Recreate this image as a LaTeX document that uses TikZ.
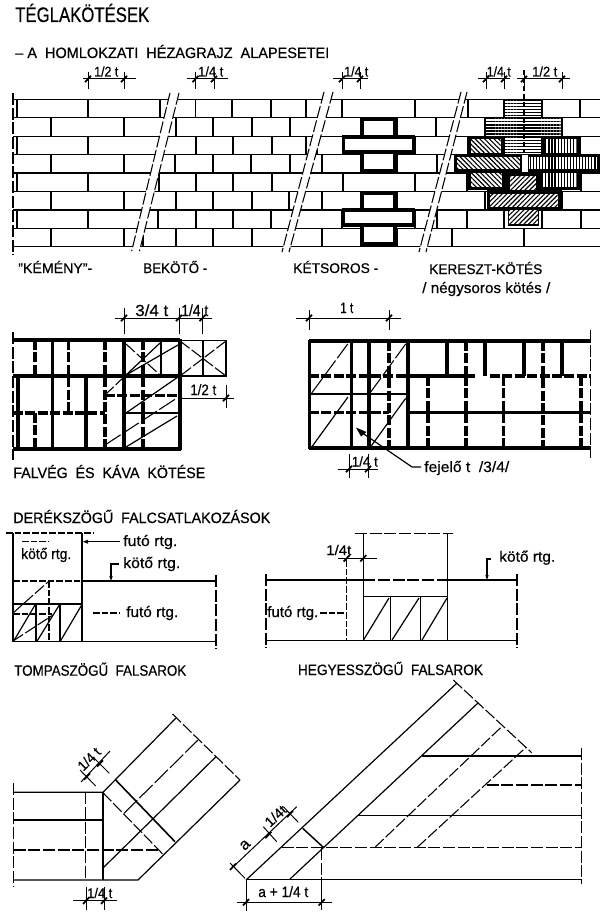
\documentclass[tikz,border=0pt]{standalone}
\usepackage{graphicx}
\usepackage{fontspec}
\setmainfont[FakeBold=0.5]{Liberation Sans}
\usetikzlibrary{patterns.meta}
\newdimen\pxu \pxu=.75pt
\newcommand\ws{\hskip .55em\relax}
\tikzset{
  thinl/.style={line width=.9pt,line cap=butt},
  bold/.style={line width=2.6pt},
  boldd/.style={line width=2.6pt,dash pattern=on 7.5pt off 1.8pt},
  dsh/.style={line width=.8pt,dash pattern=on 9pt off 2pt},
  sdsh/.style={line width=.8pt,dash pattern=on 5pt off 1.5pt},
  ldsh/.style={line width=.8pt,dash pattern=on 14pt off 2.2pt},
  thick cross/.style={line width=2.8pt,line join=miter},
  tickm/.style={line width=1.3pt},
  dimline/.style={line width=.75pt},
  hh/.style={draw=black,line width=.5pt,pattern={Lines[angle=0,distance=2.3pt,line width=1pt]}},
  hv/.style={draw=none,pattern={Lines[angle=90,distance=2.3pt,line width=.9pt]}},
  hb/.style={draw=none,pattern={Lines[angle=-45,distance=2.5pt,line width=.85pt]}},
  hf/.style={draw=none,pattern={Lines[angle=45,distance=2.5pt,line width=.85pt]}},
  lettering/.style={inner sep=0pt,anchor=base west},
}
% name, x, y, width px, size px, text
\newcommand\lab[6]{\node[lettering] (#1) at (#2,#3)
  {\resizebox{#4\pxu}{\height}{\fontsize{#5\pxu}{#5\pxu}\selectfont #6}};}
% name, x, y, angle, width px, size px, text
\newcommand\rlab[7]{\node[inner sep=0pt,rotate=#4] (#1) at (#2,#3)
  {\resizebox{#5\pxu}{\height}{\fontsize{#6\pxu}{#6\pxu}\selectfont #7}};}
\newcommand\tk[2]{\draw[tickm] (#1-3,#2+3.2) -- (#1+3,#2-3.2);}
\begin{document}
\begin{tikzpicture}[x=.75pt,y=-.75pt]
\useasboundingbox (0,0) rectangle (600,913);
\fill[white] (0,0) rectangle (600,913);

% ---------- headings
\lab{title}{15}{22}{134}{21}{TÉGLAKÖTÉSEK}
\lab{sub}{15}{58}{314}{15}{– A\ws HOMLOKZATI\ws HÉZAGRAJZ\ws ALAPESETEI}

% ---------- brick wall
\foreach \r/\xs in {
 0/{17,88,160,195.5,232,271,306,342,415,468,504,542,580},
 1/{51,124,176,213,252,290,361,397,436,485,562},
 2/{17,88,196,233,272,306,317,343,415,468,504,542,580},
 3/{51,124,175,213,251,290,322,361,397,437,599},
 4/{17,88,159,196,233,272,343,415,467,581},
 5/{51,124,176,213,252,289,322,361,397,485,562},
 6/{17,88,158,196,233,271,342,415,437,467,504,542,581},
 7/{51,124,143,176,213,252,322,361,397,452,524}}{
  \pgfmathsetmacro\ya{99.5+18.4*\r}
  \pgfmathsetmacro\yb{\ya+18.4}
  \foreach \x in \xs {\draw[thinl] (\x,\ya) -- (\x,\yb);}
}
\foreach \r in {0,...,8}{
  \pgfmathsetmacro\ya{99.5+18.4*\r}
  \draw[thinl] (13,\ya) -- (600,\ya);
}
\draw[dsh] (13,93) -- (13,255);

% break bands
\fill[white] (170,93) -- (179,93) -- (139.5,251) -- (131.7,251) -- cycle;
\draw[dsh] (170,93) -- (131.7,251);
\draw[dsh] (179,93) -- (139.5,251);
\fill[white] (324,92) -- (333,92) -- (289,252) -- (282,252) -- cycle;
\draw[dsh] (324,92) -- (282,252);
\draw[dsh] (333,92) -- (289,252);
\fill[white] (461,92) -- (467,92) -- (426,252) -- (419,252) -- cycle;
\draw[dsh] (461,92) -- (419,252);
\draw[dsh] (467,92) -- (426,252);

% double-row crosses
\foreach \ya/\yb/\yc/\yd in {119/137.3/151.7/170.7, 193/210/225/244}{
  \draw[thick cross,fill=white] (362,\ya) rectangle (395,\yb);
  \draw[thick cross,fill=white] (343.5,\yb) rectangle (413.5,\yc);
  \draw[thick cross,fill=white] (362,\yc) rectangle (395,\yd);
}

% cross bond
\path[hh,draw=none] (504,100) rectangle (541.7,117.3);
\path[hh,draw=none] (486,119) rectangle (560.7,136);
\path[hh,draw=none] (504,137) rectangle (541.7,153.3);
% black grounds
\fill[black] (467.5,136.5) rectangle (503.5,156);
\fill[black] (453.5,154) rectangle (522,172);
\fill[black] (467.5,170) rectangle (504,190);
\fill[black] (542,136.5) rectangle (580,156);
\fill[black] (527.5,154) rectangle (599,172);
\fill[black] (540,170) rectangle (580,190);
\fill[black] (504,172) rectangle (542,192);
\fill[black] (486.7,190) rectangle (562,208.5);
\foreach \a/\b/\c/\d in {470.7/139.3/500.7/153.3,456.7/157.3/520/169.3,470.7/173.3/501.7/187.3}{
  \fill[white] (\a,\b) rectangle (\c,\d); \path[hb] (\a,\b) rectangle (\c,\d);}
\foreach \a/\b/\c/\d in {545/139.3/576.7/153.3,529.3/157.3/596.7/169.3,542.7/173.3/576.7/186.7}{
  \fill[white] (\a,\b) rectangle (\c,\d); \path[hv] (\a,\b) rectangle (\c,\d);}
\foreach \a/\b/\c/\d in {510/176/536/190,490/194/557.7/206.7,508.3/210/538.3/223.3}{
  \fill[white] (\a,\b) rectangle (\c,\d); \path[hf] (\a,\b) rectangle (\c,\d);}
\draw[thinl] (508.3,208) rectangle (538.3,225);
\draw[line width=1pt,dash pattern=on 4pt off 2pt] (524,70) -- (524,153);

% wall dimensions
\foreach \xa/\xb/\ta/\tb/\y in {83/136/88/124/79, 187/228/195.5/214/79, 333/368/342/360/79, 478/510/486/504/79, 517/570/524/562/79}{
  \draw[dimline] (\xa,\y) -- (\xb,\y);
  \draw[dimline] (\ta,\y-7) -- (\ta,\y+10);
  \draw[dimline] (\tb,\y-7) -- (\tb,\y+10);
  \tk{\ta}{\y} \tk{\tb}{\y}
}
\lab{d1}{94}{76.5}{24}{14}{1/2 t}
\lab{d2}{198}{76.5}{25}{14}{1/4 t}
\lab{d3}{344}{76.5}{24}{14}{1/4 t}
\lab{d4}{486.5}{76.5}{24}{14}{1/4 t}
\lab{d5}{532}{76.5}{25}{14}{1/2 t}

% wall captions
\lab{c1}{18}{273}{74}{14}{"KÉMÉNY"-}
\lab{c2}{143}{273}{64}{14}{BEKÖTŐ -}
\lab{c3}{293}{273}{85}{14}{KÉTSOROS -}
\lab{c4}{429}{274}{113}{14}{KERESZT-KÖTÉS}
\lab{c5}{422}{293}{128}{15}{/ négysoros kötés /}

% ---------- wall end (left)
\draw[dsh] (13,332) -- (13,460);
\draw[bold] (13,340) -- (180,340);
\draw[bold] (13,376) -- (180,376);
\draw[bold] (13,449) -- (181,449);
\draw[bold] (180,339) -- (180,450);
\draw[boldd] (13,413) -- (105,413);
\draw[line width=1.6pt] (124,413) -- (180,413);
\draw[boldd] (105,395.5) -- (180,395.5);
\foreach \x in {52.5,124}{\draw[bold] (\x,340) -- (\x,449);}
\foreach \x in {18,86}{\draw[bold] (\x,376) -- (\x,449);}
\draw[boldd] (35,340) -- (35,376);
\draw[boldd] (35,413) -- (35,449);
\draw[boldd] (68.7,340) -- (68.7,413);
\draw[boldd] (105,340) -- (105,449);
\draw[boldd] (143,340) -- (143,449);
\draw[thinl] (161,340) -- (161,376);
\draw[thinl] (180,340.5) -- (226,340.5) -- (226,376) -- (180,376);
\draw[thinl] (203,340) -- (203,376);
\draw[dsh] (180,341) -- (226,376);
\draw[dsh] (226,341) -- (180,376);
\draw[thinl] (126,375) -- (160,343);
\draw[thinl] (126,375) -- (178,345);
\draw[dsh] (126,344) -- (160,375);
\draw[dsh] (105,395) -- (126,375);
\draw[thinl] (126,413) -- (178,377);
\draw[ldsh] (105,445) -- (177,398);
\draw[thinl] (126,447) -- (177,416);
\draw[dimline] (115,318) -- (212,318);
\foreach \x in {124,179,202.5}{\draw[dimline] (\x,308) -- (\x,334); \tk{\x}{318}}
\lab{e1}{135}{316}{33}{16}{3/4 t}
\lab{e2}{181}{316}{27}{16}{1/4 t}
\draw[dimline] (180,398) -- (234,398);
\draw[dimline] (226,385) -- (226,408);
\tk{226}{398}
\fill (180,397.5) circle (2.2);
\lab{e3}{190}{395}{26}{15}{1/2 t}
\lab{e4}{13}{478}{192}{15}{FALVÉG\ws ÉS\ws KÁVA\ws KÖTÉSE}

% ---------- wall end (right)
\draw[dsh] (590.7,330) -- (590.7,458);
\draw[bold] (309,341) -- (590.7,341);
\draw[bold] (309,448) -- (590.7,448);
\draw[boldd] (309,376) -- (412,376);
\draw[bold] (412,376) -- (475,376);
\draw[boldd] (490,376) -- (590.7,376);
\draw[boldd] (309,412.7) -- (389,412.7);
\draw[bold] (408,412.7) -- (590.7,412.7);
\draw[line width=1.5pt] (309,394.3) -- (408,394.3);
\foreach \x in {309.3,351.7,369,408}{\draw[bold] (\x,340) -- (\x,449);}
\draw[boldd] (389,341) -- (389,448);
\foreach \x in {447,485,524,562}{\draw[bold] (\x,341) -- (\x,376);}
\draw[boldd] (466,341) -- (466,376);
\foreach \x in {428,466,503.5,581}{\draw[boldd] (\x,376) -- (\x,448);}
\draw[boldd] (543,341) -- (543,448);
\draw[ldsh] (311.7,393) -- (347.7,344);
\draw[ldsh] (370,393) -- (405.7,344);
\draw[thinl] (311.7,447) -- (348,397);
\draw[thinl] (370,447.7) -- (405.7,398.3);
\draw[dimline] (296,318) -- (401,318);
\foreach \x in {309,389}{\draw[dimline] (\x,310) -- (\x,330); \tk{\x}{318}}
\lab{f1}{340}{313}{13}{15}{1 t}
\draw[dimline] (338,469) -- (378,469);
\foreach \x in {349,368}{\draw[dimline] (\x,454) -- (\x,478); \tk{\x}{469}}
\lab{f2}{351.5}{466.5}{26}{14}{1/4 t}
\coordinate (lead) at (412,467);
\draw[thinl] (358,430) -- (lead) -- (421,467);
\fill (356,427.5) -- (366.5,432) -- (361,436.5) -- cycle;
\lab{f3}{424}{472}{85}{15}{fejelő t\ws /3/4/}

% ---------- right-angle junctions
\lab{g0}{13}{523}{257}{15}{DERÉKSZÖGŰ\ws FALCSATLAKOZÁSOK}
\draw[sdsh] (6,533) -- (93,533);
\draw[thinl] (13,533) -- (13,642);
\draw[line width=1.2pt] (82,533) -- (82,642);
\draw[sdsh] (22,541.7) -- (49,541.7);
\lab{g1}{21}{559}{50}{15}{kötő rtg.}
\draw[thinl] (120,541.7) -- (87,541.7);
\fill (83,541.7) -- (88,539.7) -- (88,543.7) -- cycle;
\lab{g2}{123}{546}{54}{15}{futó rtg.}
\lab{g3}{123}{568}{57}{15}{kötő rtg.}
\draw[thinl] (119,564) -- (111,564) -- (111,578);
\fill (111,581) -- (109.3,576) -- (112.7,576) -- cycle;
\draw[sdsh] (13,581) -- (82,581);
\draw[thinl] (82,581) -- (216,581);
\draw[thinl] (13,641.7) -- (216,641.7);
\draw[dsh] (216,575) -- (216,649);
\draw[sdsh] (49,581) -- (49,641);
\draw[thinl] (13,604) -- (82,604);
\draw[sdsh] (13,614) -- (52,614);
\draw[sdsh] (93,613) -- (120,613);
\lab{g4}{126}{617}{52}{15}{futó rtg.}
\foreach \x in {36,60}{\draw[thinl] (\x,604) -- (\x,641.7);}
\draw[thinl] (13.3,641.7) -- (35,605);
\draw[thinl] (36.7,641.7) -- (59.3,605);
\draw[thinl] (60,641.7) -- (81.7,605);
\draw[dsh] (13,613) -- (48,582);
\draw[dsh] (13,641) -- (53,615);

\draw[dsh] (355,533.3) -- (452.7,533.3);
\draw[thinl] (363.3,533) -- (363.3,641);
\draw[thinl] (447.7,533) -- (447.7,641);
\draw[thinl] (266,580) -- (363.3,580);
\draw[dsh] (363.3,580) -- (447.7,580);
\draw[line width=1.2pt] (447.7,580) -- (517,580);
\draw[dsh] (266,574) -- (266,648);
\draw[dsh] (517,574) -- (517,648);
\draw[line width=1.1pt] (266,640.7) -- (517,640.7);
\draw[sdsh] (346.7,560) -- (346.7,641);
\draw[thinl] (363.3,596.7) -- (447.7,596.7);
\foreach \x in {390.7,420.7}{\draw[thinl] (\x,596.7) -- (\x,641);}
\draw[thinl] (363.5,640) -- (389,598);
\draw[thinl] (392,640) -- (419,598);
\draw[thinl] (422,640) -- (447,598);
\draw[dimline] (338,558.3) -- (376.7,558.3);
\tk{346.7}{558.3} \tk{363.3}{558.3}
\lab{h1}{326}{555}{25}{14}{1/4t}
\lab{h2}{267}{617}{51}{15}{futó rtg.}
\draw[sdsh] (320,613) -- (346.7,613);
\draw[thinl] (491,559) -- (487,559) -- (487,577);
\fill (487,580) -- (485.3,575) -- (488.7,575) -- cycle;
\lab{h3}{499}{561.7}{56}{15}{kötő rtg.}

% ---------- obtuse corner
\lab{i0}{14}{675.7}{172}{15}{TOMPASZÖGŰ\ws FALSAROK}
\draw[dsh] (13.7,783) -- (13.7,887);
\draw[thinl] (13.7,792.3) -- (103,792.3) -- (176,718);
\draw[thinl] (13.7,820) -- (103,820);
\draw[dsh] (13.7,850) -- (160,850);
\draw[thinl] (13.7,880) -- (138,880) -- (240,780);
\draw[thinl] (103,792.3) -- (103,880);
\draw[dsh] (85.7,792.3) -- (85.7,880);
\draw[dsh] (172.5,714) -- (240,780);
\draw[thinl] (103,868) -- (216,756.7);
\draw[ldsh] (124,813.3) -- (198,740);
\draw[line width=1.2pt] (115.7,780) -- (175,841.7);
\draw[dsh] (103,792.7) -- (162.7,854);
\draw[dimline] (81,782) -- (110,751);
\draw[dimline] (80,770) -- (95.7,786);
\draw[dimline] (94,758) -- (109.3,773.3);
\tk{87}{776.5} \tk{100}{763.5}
\rlab{i1}{89}{759}{45}{26}{14}{1/4 t}
\draw[dimline] (73,900.7) -- (117,900.7);
\foreach \x in {86,104}{\draw[dimline] (\x,887) -- (\x,910); \tk{\x}{900.7}}
\lab{i2}{87}{898}{25}{14}{1/4 t}

% ---------- acute corner
\lab{j0}{297.7}{675}{185}{15}{HEGYESSZÖGŰ\ws FALSAROK}
\draw[dsh] (581.7,748) -- (581.7,884);
\draw[thinl] (246,880) -- (456.7,683.3);
\draw[thinl] (290,879) -- (478.3,702.7);
\draw[dsh] (375,847.3) -- (501.7,726.7);
\draw[dsh] (417.3,847.3) -- (526,747.3);
\draw[dsh] (453.3,680) -- (531.7,752.7);
\draw[thinl] (421.7,756) -- (581.7,756);
\draw[dsh] (486.7,785) -- (581.7,785);
\draw[thinl] (357.7,815.7) -- (581.7,815.7);
\draw[dsh] (281.7,847.7) -- (581.7,847.7);
\draw[thinl] (246,879.3) -- (581.7,879.3);
\draw[dsh] (321.7,848) -- (321.7,879.3);
\draw[dimline] (321.7,879.3) -- (321.7,910);
\draw[dimline] (246,880) -- (246,911);
\draw[line width=1.1pt] (302.7,828.3) -- (323.3,847.3);
\draw[dimline] (236.7,902.3) -- (331.7,902.3);
\tk{246}{902.3} \tk{321.7}{902.3}
\lab{j1}{258}{897}{50}{15}{a + 1/4 t}
\draw[dimline] (233.3,866.7) -- (296.7,806.7);
\draw[dimline] (230,863) -- (245,878.3);
\draw[dimline] (263.3,826.7) -- (276.7,841.7);
\draw[dimline] (283.3,806.7) -- (298.3,822.3);
\tk{233}{866.7} \tk{268.3}{835} \tk{290}{814}
\rlab{j2}{245}{845}{43}{9}{16}{a}
\rlab{j3}{275.5}{816}{43}{24}{14}{1/4t}
\end{tikzpicture}
\end{document}
